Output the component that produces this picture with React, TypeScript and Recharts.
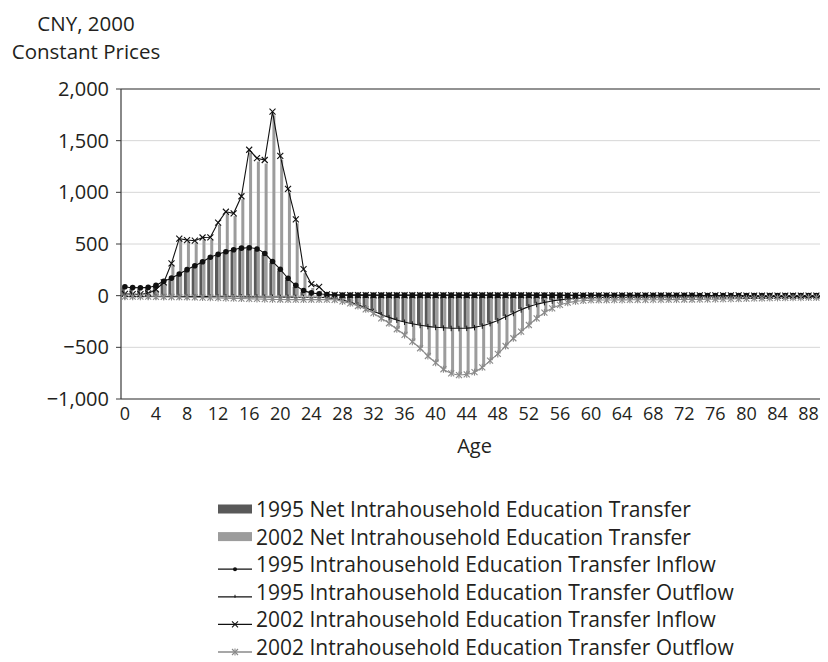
import React from 'react';
import { ComposedChart, Bar, Line, XAxis, YAxis, CartesianGrid, ReferenceLine } from 'recharts';

// ages 0..90
const ages = Array.from({ length: 91 }, (_, i) => i);

const net1995 = [
  79, 70, 69, 72, 92, 132, 162, 202, 243, 281,
  319, 362, 390, 415, 434, 449, 451, 440, 395, 317,
  241, 154, 85, 35, 13, 2, -10, -22, -37, -57,
  -83, -113, -145, -177, -205, -230, -250, -267, -281, -292,
  -300, -306, -310, -311, -309, -302, -287, -263, -235, -200,
  -165, -131, -101, -78, -60, -46, -36, -29, -23, -19,
  -16, -14, -13, -12, -12, -12, -11, -11, -10, -10,
  -9, -9, -9, -8, -9, -9, -8, -8, -8, -8,
  -7, -7, -7, -7, -7, -7, -7, -7, -7, -6, -6,
];

const net2002 = [
  8, 4, 4, 12, 49, 116, 300, 538, 523, 516,
  545, 545, 685, 788, 771, 934, 1382, 1298, 1279, 1745,
  1315, 995, 701, 218, 74, 47, -26, -32, -50, -69,
  -95, -127, -166, -215, -263, -321, -376, -441, -505, -580,
  -644, -708, -747, -764, -757, -736, -689, -625, -560, -483,
  -408, -344, -280, -216, -161, -119, -87, -65, -52, -44,
  -40, -39, -39, -38, -38, -37, -38, -38, -37, -37,
  -36, -36, -35, -35, -34, -33, -32, -31, -30, -28,
  -27, -25, -24, -22, -21, -20, -19, -18, -17, -17, -16,
];

const inflow1995 = [
  87, 78, 77, 80, 100, 140, 170, 210, 252, 290,
  328, 372, 400, 425, 445, 460, 463, 452, 408, 330,
  255, 168, 100, 50, 28, 18, 10, 6, 5, 5,
  5, 5, 5, 5, 5, 5, 5, 5, 5, 5,
  5, 5, 5, 5, 5, 5, 5, 5, 5, 5,
  5, 5, 5, 5, 5, 5, 5, 4, 4, 4,
  4, 4, 4, 4, 3, 3, 3, 3, 3, 3,
  3, 3, 3, 3, 2, 2, 2, 2, 2, 2,
  2, 2, 2, 2, 1, 1, 1, 1, 1, 1, 1,
];

const outflow1995 = [
  -8, -8, -8, -8, -8, -8, -8, -8, -9, -9,
  -9, -10, -10, -10, -11, -11, -12, -12, -13, -13,
  -14, -14, -15, -15, -15, -16, -20, -28, -42, -62,
  -88, -118, -150, -182, -210, -235, -255, -272, -286, -297,
  -305, -311, -315, -316, -314, -307, -292, -268, -240, -205,
  -170, -136, -106, -83, -65, -51, -41, -33, -27, -23,
  -20, -18, -17, -16, -15, -15, -14, -14, -13, -13,
  -12, -12, -12, -11, -11, -11, -10, -10, -10, -10,
  -9, -9, -9, -9, -8, -8, -8, -8, -8, -7, -7,
];

const inflow2002 = [
  18, 14, 14, 22, 60, 128, 313, 552, 538, 532,
  563, 565, 707, 812, 797, 962, 1412, 1330, 1313, 1781,
  1352, 1033, 739, 256, 112, 85, 12, 8, 6, 5,
  5, 5, 4, 4, 4, 4, 4, 4, 4, 4,
  4, 4, 4, 4, 4, 4, 4, 4, 4, 4,
  4, 4, 4, 3, 3, 3, 3, 3, 3, 3,
  3, 3, 3, 3, 3, 3, 2, 2, 2, 2,
  2, 2, 2, 2, 2, 2, 2, 2, 2, 2,
  1, 1, 1, 1, 1, 1, 1, 1, 1, 1, 1,
];

const outflow2002 = [
  -10, -10, -10, -10, -11, -12, -13, -14, -15, -16,
  -18, -20, -22, -24, -26, -28, -30, -32, -34, -36,
  -37, -38, -38, -38, -38, -38, -38, -40, -56, -74,
  -100, -132, -170, -219, -267, -325, -380, -445, -509, -584,
  -648, -712, -751, -768, -761, -740, -693, -629, -564, -487,
  -412, -348, -284, -219, -164, -122, -90, -68, -55, -47,
  -43, -42, -42, -41, -41, -40, -40, -40, -39, -39,
  -38, -38, -37, -37, -36, -35, -34, -33, -32, -30,
  -28, -26, -25, -23, -22, -21, -20, -19, -18, -18, -17,
];

const yTicks = [-1000, -500, 0, 500, 1000, 1500, 2000];

const seriesNames = [
  '1995 Net Intrahousehold Education Transfer',
  '2002 Net Intrahousehold Education Transfer',
  '1995 Intrahousehold Education Transfer Inflow',
  '1995 Intrahousehold Education Transfer Outflow',
  '2002 Intrahousehold Education Transfer Inflow',
  '2002 Intrahousehold Education Transfer Outflow',
];

const data = ages.map((age, i) => ({
  age,
  net1995: net1995[i],
  net2002: net2002[i],
  in1995: inflow1995[i],
  out1995: outflow1995[i],
  in2002: inflow2002[i],
  out2002: outflow2002[i],
}));

const FONT = '"Open Sans", "Noto Sans", sans-serif';
const TEXT = '#231f20';
const DARK = '#595959';
const LIGHT = '#9c9c9c';
const GRAYLINE = '#8a8a8a';

const fmt = (v: number) => (v < 0 ? '\u2212' : '') + Math.abs(v).toLocaleString('en-US');

// marker shapes
const circleMark = (x: number, y: number) => <circle cx={x} cy={y} r={2.8} fill="#111" />;
const tickMark = (x: number, y: number) => <line x1={x} y1={y - 2.5} x2={x} y2={y + 3} stroke="#111" strokeWidth={1} />;
const crossMark = (x: number, y: number, c = '#111') => (
  <g stroke={c} strokeWidth={1.1}>
    <line x1={x - 3} y1={y - 3} x2={x + 3} y2={y + 3} />
    <line x1={x - 3} y1={y + 3} x2={x + 3} y2={y - 3} />
  </g>
);
const starMark = (x: number, y: number) => (
  <g stroke={GRAYLINE} strokeWidth={1.1}>
    <line x1={x - 3} y1={y - 3} x2={x + 3} y2={y + 3} />
    <line x1={x - 3} y1={y + 3} x2={x + 3} y2={y - 3} />
    <line x1={x} y1={y - 3.5} x2={x} y2={y + 3.5} />
  </g>
);

const dotOf = (fn: (x: number, y: number) => React.ReactNode, name: string) => (p: any) => {
  if (p.cx == null || p.cy == null) return <g key={`${name}-${p.index}`} />;
  return <g key={`${name}-${p.index}`}>{fn(p.cx, p.cy)}</g>;
};

function LegendBox() {
  const rowH = 27.6;
  return (
    <svg width={610} height={184} style={{ position: 'absolute', left: 200, top: 470, overflow: 'visible' }}>
      {seriesNames.map((name, i) => {
        const y = 31 + i * rowH;
        let sw: React.ReactNode;
        if (i === 0) sw = <rect x={10} y={y - 4.5} width={34} height={9} fill={DARK} />;
        else if (i === 1) sw = <rect x={10} y={y - 4.5} width={34} height={9} fill={LIGHT} />;
        else {
          const ly = y + 5;
          const c = i === 5 ? GRAYLINE : '#111';
          const mk = i === 2 ? <circle cx={27} cy={ly} r={2} fill="#111" />
            : i === 3 ? <line x1={27} y1={ly - 2} x2={27} y2={ly + 1} stroke="#111" />
            : i === 4 ? crossMark(27, ly)
            : starMark(27, ly);
          sw = (
            <g>
              <line x1={10} y1={ly} x2={44} y2={ly} stroke={c} strokeWidth={1.3} />
              {mk}
            </g>
          );
        }
        return (
          <g key={name}>
            {sw}
            <text x={48} y={y} dominantBaseline="central" fontFamily={FONT} fontSize={21} fill={TEXT}>
              {name}
            </text>
          </g>
        );
      })}
    </svg>
  );
}

export default function App() {
  return (
    <div style={{ position: 'relative', width: 820, height: 654, fontFamily: FONT, color: TEXT }}>
      <div style={{ position: 'absolute', left: 0, top: 1, width: 156, textAlign: 'center', fontSize: 20.5, lineHeight: '28px', whiteSpace: 'nowrap' }}>
        CNY, 2000
        <br />
        Constant Prices
      </div>
      <ComposedChart
        width={820}
        height={452}
        data={data}
        margin={{ top: 81, right: 0, bottom: 5, left: 13 }}
        barCategoryGap="10%"
        barGap={0}
      >
        <CartesianGrid vertical={false} stroke="#d6d6d6" />
        <ReferenceLine y={2000} stroke="#3a3a3a" strokeWidth={1.2} />
        <XAxis
          dataKey="age"
          interval={3}
          tickLine={false}
          axisLine={{ stroke: '#3a3a3a', strokeWidth: 1.2 }}
          tick={{ fontSize: 18, fill: TEXT, fontFamily: FONT }}
          height={56}
          label={{ value: 'Age', position: 'insideBottom', offset: 2, fontSize: 20, fill: TEXT, fontFamily: FONT }}
        />
        <YAxis
          domain={[-1000, 2000]}
          ticks={yTicks}
          width={100}
          tickSize={5}
          tickMargin={7}
          tickFormatter={fmt}
          tickLine={{ stroke: '#3a3a3a' }}
          axisLine={{ stroke: '#3a3a3a', strokeWidth: 1.2 }}
          tick={{ fontSize: 20, fill: TEXT, fontFamily: FONT }}
        />
        <Bar dataKey="net1995" name={seriesNames[0]} fill={DARK} isAnimationActive={false} />
        <Bar dataKey="net2002" name={seriesNames[1]} fill={LIGHT} isAnimationActive={false} />
        <Line type="monotone" dataKey="in1995" name={seriesNames[2]} stroke="#111" strokeWidth={1.1} dot={dotOf(circleMark, 'a')} isAnimationActive={false} />
        <Line type="monotone" dataKey="out1995" name={seriesNames[3]} stroke="#111" strokeWidth={1.1} dot={dotOf(tickMark, 'b')} isAnimationActive={false} />
        <Line type="linear" dataKey="in2002" name={seriesNames[4]} stroke="#111" strokeWidth={1.1} dot={dotOf((x, y) => crossMark(x, y), 'c')} isAnimationActive={false} />
        <Line type="monotone" dataKey="out2002" name={seriesNames[5]} stroke={GRAYLINE} strokeWidth={1.1} dot={dotOf(starMark, 'd')} isAnimationActive={false} />
      </ComposedChart>
      <LegendBox />
    </div>
  );
}
